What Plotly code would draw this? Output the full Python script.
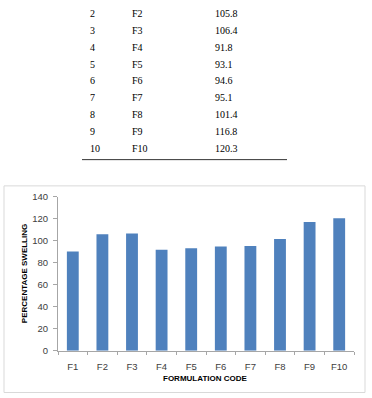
import plotly.graph_objects as go

# Data
serial_no = ["1", "2", "3", "4", "5", "6", "7", "8", "9", "10"]
formulation_codes = ["F1", "F2", "F3", "F4", "F5", "F6", "F7", "F8", "F9", "F10"]
percentage_swelling = [90.0, 105.8, 106.4, 91.8, 93.1, 94.6, 95.1, 101.4, 116.8, 120.3]
y_ticks = [0, 20, 40, 60, 80, 100, 120, 140]

W, H = 372, 398

def px(x):
    return x / W

def py(y):
    return 1 - y / H

fig = go.Figure()
fig.add_trace(go.Bar(
    x=formulation_codes, y=percentage_swelling,
    marker=dict(color="#4F81BD", line=dict(width=0)),
    width=0.4,
))

axis_font = dict(family="Liberation Sans, Arial, sans-serif", size=9.5, color="#404040")

fig.update_layout(
    width=W, height=H,
    margin=dict(l=0, r=0, t=0, b=0),
    paper_bgcolor="white", plot_bgcolor="white",
    showlegend=False,
    xaxis=dict(
        domain=[px(58), px(354)],
        anchor="y",
        type="category",
        showline=True, linecolor="#A6A6A6", linewidth=1,
        ticks="outside", ticklen=3, tickcolor="#A6A6A6",
        tickson="boundaries",
        tickfont=axis_font,
        ticklabelstandoff=7,
        showgrid=False, zeroline=False,
    ),
    yaxis=dict(
        domain=[py(354.5), py(196)],
        range=[0, 140],
        tickvals=y_ticks,
        showline=True, linecolor="#A6A6A6", linewidth=1,
        ticks="outside", ticklen=4, tickcolor="#A6A6A6",
        tickfont=axis_font,
        ticklabelstandoff=3,
        showgrid=False, zeroline=False,
    ),
)

# Chart border
fig.add_shape(type="rect", xref="paper", yref="paper",
              x0=px(4), x1=px(365), y0=py(397.5), y1=py(185),
              line=dict(color="#D9D9D9", width=1))

# Axis titles
title_font = dict(family="Liberation Sans, Arial, sans-serif", size=8, color="#000000")
fig.add_annotation(xref="paper", yref="paper", x=px(205.5), y=py(383),
                   text="<b>FORMULATION CODE</b>", showarrow=False,
                   font=title_font, xanchor="center", yanchor="middle")
fig.add_annotation(xref="paper", yref="paper", x=px(24), y=py(275.8),
                   text="<b>PERCENTAGE SWELLING</b>", showarrow=False, textangle=-90,
                   font=title_font, xanchor="center", yanchor="middle")

# Table (top rows cropped, starting from row 2)
table_font = dict(family="Liberation Serif, Times New Roman, serif", size=10, color="#000000")
row_y0, row_dy = 7.5, 17.4
for i in range(1, len(serial_no)):
    yy = py(row_y0 + (i - 1) * row_dy)
    fig.add_annotation(xref="paper", yref="paper", x=px(88), y=yy, text=serial_no[i],
                       showarrow=False, font=table_font, xanchor="left", yanchor="middle")
    fig.add_annotation(xref="paper", yref="paper", x=px(130), y=yy, text=formulation_codes[i],
                       showarrow=False, font=table_font, xanchor="left", yanchor="middle")
    fig.add_annotation(xref="paper", yref="paper", x=px(212.5), y=yy,
                       text=f"{percentage_swelling[i]:.1f}",
                       showarrow=False, font=table_font, xanchor="left", yanchor="middle")

fig.add_shape(type="line", xref="paper", yref="paper",
              x0=px(82), x1=px(287), y0=py(158), y1=py(158),
              line=dict(color="#333333", width=1))

fig.write_html("out.html")
